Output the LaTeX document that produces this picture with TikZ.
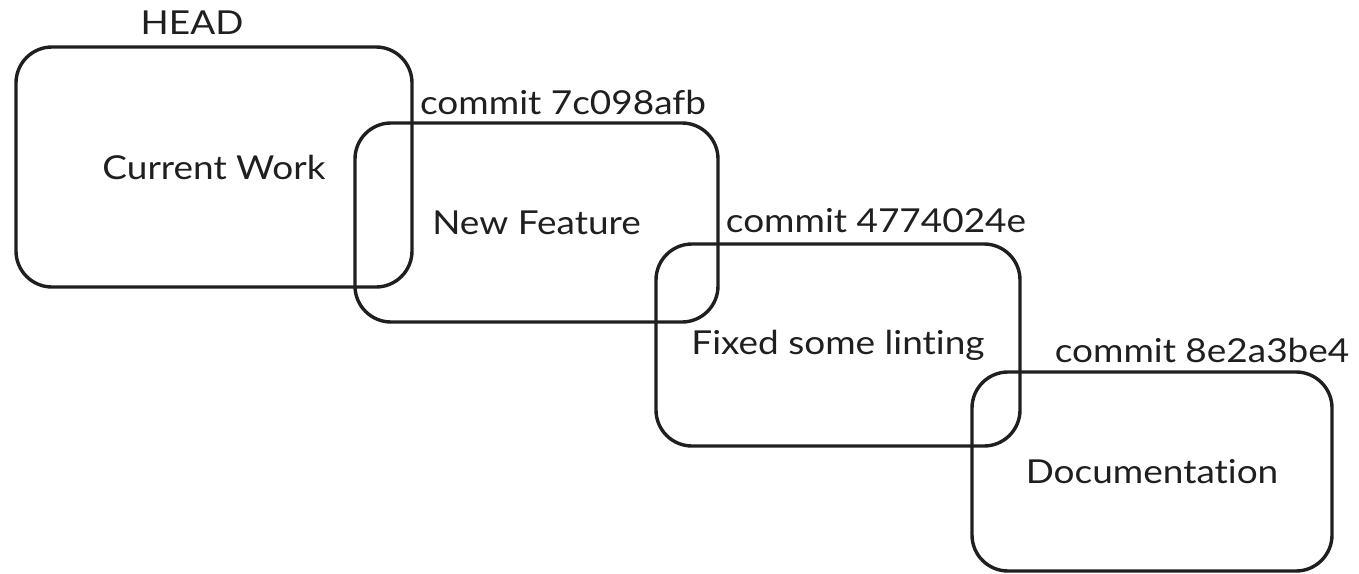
\documentclass[tikz,border=0pt]{standalone}
\usepackage{fontspec}
\setmainfont[FakeStretch=1.12,RawFeature=-liga]{Lato}
\begin{document}
\begin{tikzpicture}[x=1pt,y=-1pt,
  cbox/.style={draw=black!88, line width=3.4pt, rounded corners=36pt, inner sep=0pt},
  txt/.style={font=\fontsize{33}{38}\selectfont, text=black!88, inner sep=0pt, anchor=center}]
\useasboundingbox (0,0) rectangle (1359,573);
% boxes
\node[cbox, minimum width=396pt, minimum height=240pt] (b1) at (214,167) {};
\node[cbox, minimum width=363pt, minimum height=199pt] (b2) at (536.5,222.5) {};
\node[cbox, minimum width=364pt, minimum height=202pt] (b3) at (838,345) {};
\node[cbox, minimum width=360pt, minimum height=199pt] (b4) at (1152,471.5) {};
% box texts
\node[txt] (t1) at (b1.center) {Current Work};
\node[txt] (t2) at (b2.center) {New Feature};
\node[txt] (t3) at (b3.center) {Fixed some linting};
\node[txt] (t4) at (b4.center) {Documentation};
% labels
\node[txt] (l1) at (192,23) {HEAD};
\node[txt] (l2) at (563,102) {commit 7c098afb};
\node[txt] (l3) at (876,221) {commit 4774024e};
\node[txt] (l4) at (1202,350) {commit 8e2a3be4};
\end{tikzpicture}
\end{document}
